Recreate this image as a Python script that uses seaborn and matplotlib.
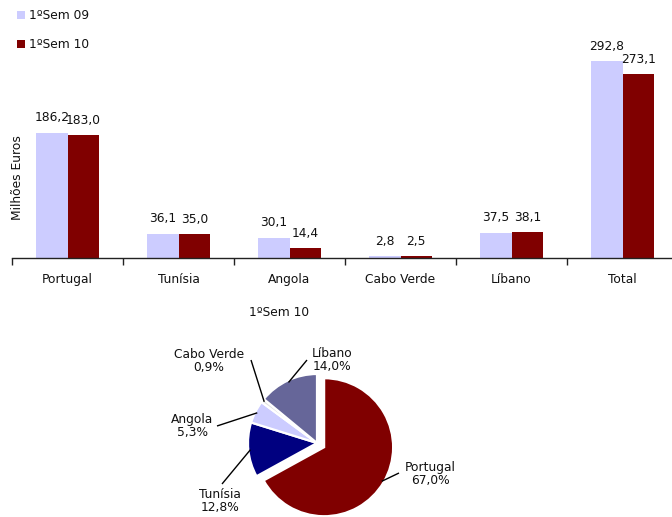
import numpy as np
import pandas as pd
import matplotlib
matplotlib.use("Agg")
import matplotlib.pyplot as plt
import seaborn as sns

# ---------------- data ----------------
categories = ["Portugal", "Tunísia", "Angola", "Cabo Verde", "Líbano", "Total"]
series_names = ["1ºSem 09", "1ºSem 10"]
sem09 = [186.2, 36.1, 30.1, 2.8, 37.5, 292.8]
sem10 = [183.0, 35.0, 14.4, 2.5, 38.1, 273.1]

pie_title = "1ºSem 10"
pie_labels = ["Portugal", "Tunísia", "Angola", "Cabo Verde", "Líbano"]
pie_values = [67.0, 12.8, 5.3, 0.9, 14.0]

# ---------------- style ----------------
sns.set_theme(style="white")
plt.rcParams["font.family"] = ["DejaVu Sans"]
FS = 8.8
bar_colors = ["#CCCCFF", "#800000"]
pie_colors = ["#800000", "#000080", "#CCCCFF", "#E3E3E3", "#666699"]
text_color = "#111111"

W, H = 672, 517
fig = plt.figure(figsize=(W / 100, H / 100), dpi=100)

# ---------------- bar chart ----------------
base_y = 258          # px from top
top_y = 40
ax = fig.add_axes([12 / W, (H - base_y) / H, 666 / W, (base_y - top_y) / H])

df = pd.DataFrame({
    "Categoria": categories * 2,
    "Série": [series_names[0]] * len(categories) + [series_names[1]] * len(categories),
    "Valor": sem09 + sem10,
})
sns.barplot(data=df, x="Categoria", y="Valor", hue="Série", order=categories,
            hue_order=series_names, palette=bar_colors, width=0.57, saturation=1,
            ax=ax, errorbar=None, linewidth=0)

ax.set_xlim(-0.5, len(categories) - 0.5)
ax.set_ylim(0, (base_y - top_y) / 0.673)

for cont in ax.containers:
    ax.bar_label(cont, labels=[f"{v:.1f}".replace(".", ",") for v in cont.datavalues],
                 padding=6, fontsize=FS, color=text_color)

for s in ["top", "right", "left"]:
    ax.spines[s].set_visible(False)
ax.spines["bottom"].set_color("#222222")
ax.spines["bottom"].set_linewidth(1.0)
ax.set_yticks([])
ax.set_ylabel("")
ax.set_xlabel("")
ax.set_xticks(np.arange(len(categories)))
ax.set_xticklabels(categories, fontsize=FS, color=text_color)
ax.set_xticks(np.arange(len(categories) + 1) - 0.5, minor=True)
ax.tick_params(axis="x", which="major", length=0, pad=11)
ax.tick_params(axis="x", which="minor", length=5, width=1, color="#222222",
               direction="out", bottom=True)

fig.text(18 / W, 1 - 178 / H, "Milhões Euros", rotation=90, ha="center",
         va="center", fontsize=FS, color=text_color)

sns.move_legend(ax, loc="upper left", bbox_to_anchor=(17 / W, 1 - 9 / H),
                bbox_transform=fig.transFigure, frameon=False, title=None,
                fontsize=FS, handlelength=0.65, handleheight=0.65,
                labelspacing=1.3, handletextpad=0.3, borderpad=0,
                borderaxespad=0)
for t in ax.get_legend().get_texts():
    t.set_color(text_color)

# ---------------- pie chart ----------------
R = 69.0                  # radius in px
cx, cy = 317.0, 443.0     # centre in px (from top)
pax_h = 230
pax = fig.add_axes([0, 0, 1, pax_h / H])

explode = [0.12, 0, 0, 0, 0]
wedges, _ = pax.pie(pie_values, colors=pie_colors, startangle=90, counterclock=False,
                    explode=explode, radius=1.0, center=(0, 0), frame=True,
                    wedgeprops=dict(edgecolor="white", linewidth=1.6))
pax.set_xlim(-cx / R, (W - cx) / R)
pax.set_ylim(-(H - cy) / R, (pax_h - (H - cy)) / R)
pax.axis("off")

# label positions (px, from top) and leader-line ends
label_pos = {
    "Portugal": (430, 474),
    "Tunísia": (220, 501),
    "Angola": (192, 426),
    "Cabo Verde": (209, 361),
    "Líbano": (332, 360),
}
line_end = {
    "Portugal": (399, 473),
    "Tunísia": (222, 484),
    "Angola": (217, 426),
    "Cabo Verde": (251, 360),
    "Líbano": (307, 360),
}

def px2d(p):
    return ((p[0] - cx) / R, (cy - p[1]) / R)

for w, lab, val, ex in zip(wedges, pie_labels, pie_values, explode):
    theta = np.deg2rad((w.theta1 + w.theta2) / 2)
    ox, oy = ex * np.cos(theta), ex * np.sin(theta)
    sx, sy = ox + 0.97 * np.cos(theta), oy + 0.97 * np.sin(theta)
    ex_, ey_ = px2d(line_end[lab])
    pax.plot([sx, ex_], [sy, ey_], color="black", lw=1.0, solid_capstyle="butt")
    tx, ty = px2d(label_pos[lab])
    pax.text(tx, ty, f"{lab}\n{val:.1f}%".replace(".", ","), ha="center", va="center",
             fontsize=FS, color=text_color, linespacing=1.05)

fig.text(279 / W, 1 - 313 / H, pie_title, ha="center", va="center",
         fontsize=FS, color=text_color)

fig.savefig("out.png", dpi=100)
